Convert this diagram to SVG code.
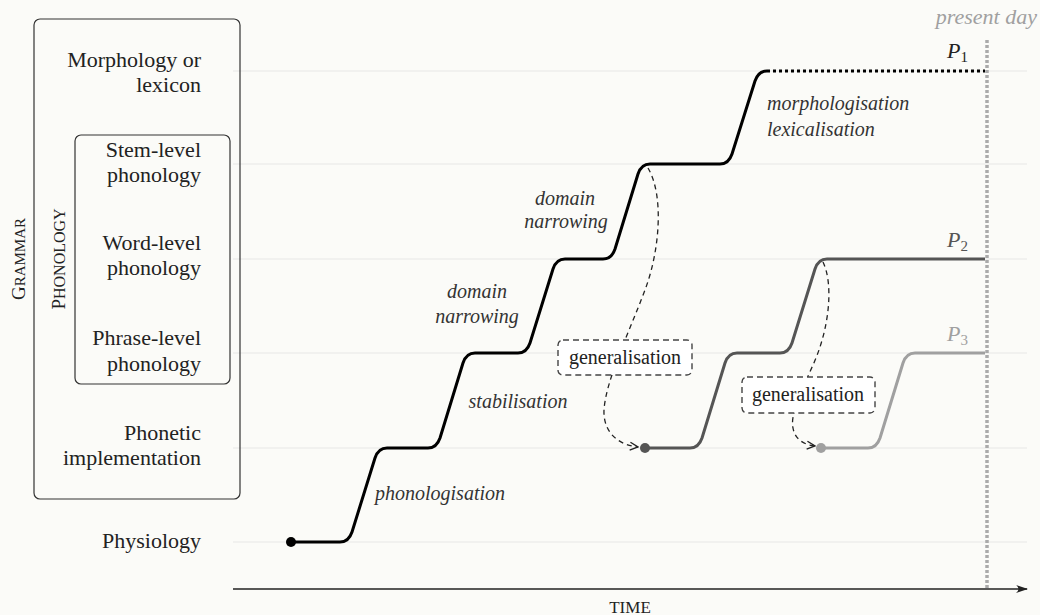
<svg xmlns="http://www.w3.org/2000/svg" width="1040" height="615" viewBox="0 0 1040 615" font-family="Liberation Serif, serif">
<style>
text{font-family:'Liberation Serif',serif}
.lbl{font-size:22px;fill:#222;text-anchor:end}
.it{font-style:italic;font-size:20px;fill:#333}
.mid{text-anchor:middle}
.gt{font-size:20px;fill:#222;text-anchor:middle}
.plab{font-style:italic;font-size:22px}
.sub{font-size:15px;font-style:normal}
.lvl{stroke:#e8e8e6;stroke-width:1.2;fill:none}
.box{fill:none;stroke:#333;stroke-width:1.2}
.gen{fill:#fff;stroke:#444;stroke-width:1.4;stroke-dasharray:6 4}
.dash{fill:none;stroke:#222;stroke-width:1.3;stroke-dasharray:5 4}
.pl{fill:none;stroke-width:3;stroke-linejoin:round}
</style>
<defs>
<marker id="open" viewBox="0 0 10 10" refX="9" refY="5" markerWidth="10" markerHeight="10" markerUnits="userSpaceOnUse" orient="auto">
<path d="M1,1 L9,5 L1,9" fill="none" stroke="#222" stroke-width="1.4"/>
</marker>
<marker id="axis" viewBox="0 0 12 10" refX="11" refY="5" markerWidth="12" markerHeight="10" markerUnits="userSpaceOnUse" orient="auto">
<path d="M0,1 Q5,5 0,9 L12,5 Z" fill="#222"/>
</marker>
</defs>
<rect width="1040" height="615" fill="#fbfbf8"/>
<g id="levels">
<line class="lvl" x1="233" y1="71" x2="1027" y2="71"/>
<line class="lvl" x1="233" y1="164" x2="1027" y2="164"/>
<line class="lvl" x1="233" y1="259" x2="1027" y2="259"/>
<line class="lvl" x1="233" y1="353" x2="1027" y2="353"/>
<line class="lvl" x1="233" y1="448" x2="1027" y2="448"/>
<line class="lvl" x1="233" y1="542" x2="1027" y2="542"/>
</g>
<g id="grammar">
<rect class="box" x="34" y="19" width="206" height="480" rx="6"/>
<text transform="translate(25,259) rotate(-90)" text-anchor="middle" fill="#222"><tspan font-size="19">G</tspan><tspan font-size="15">RAMMAR</tspan></text>
</g>
<g id="phonology">
<rect class="box" x="75" y="135" width="155" height="249" rx="6"/>
<text transform="translate(65,259) rotate(-90)" text-anchor="middle" fill="#222"><tspan font-size="19">P</tspan><tspan font-size="16">HONOLOGY</tspan></text>
</g>
<g id="labels">
<text class="lbl" x="201" y="67">Morphology or</text>
<text class="lbl" x="201" y="92">lexicon</text>
<text class="lbl" x="201" y="157">Stem-level</text>
<text class="lbl" x="201" y="182">phonology</text>
<text class="lbl" x="201" y="250">Word-level</text>
<text class="lbl" x="201" y="275">phonology</text>
<text class="lbl" x="201" y="345">Phrase-level</text>
<text class="lbl" x="201" y="371">phonology</text>
<text class="lbl" x="201" y="440">Phonetic</text>
<text class="lbl" x="201" y="465">implementation</text>
<text class="lbl" x="201" y="548">Physiology</text>
</g>
<g id="axis">
<line x1="233" y1="589" x2="1027" y2="589" stroke="#222" stroke-width="1.3" marker-end="url(#axis)"/>
<text x="630" y="613" text-anchor="middle" font-size="17" fill="#222">TIME</text>
</g>
<g id="present-day">
<line x1="987" y1="40" x2="987" y2="589" stroke="#aaa" stroke-width="3.5" stroke-dasharray="3 2"/>
<text x="1037" y="24" text-anchor="end" font-style="italic" font-size="22" fill="#a0a0a0">present day</text>
</g>
<g id="connectors">
<path class="dash" d="M648 168 C664 195 660 250 645 290 C628 335 606 380 604 410 C603 432 618 445 638 447" marker-end="url(#open)"/>
<path class="dash" d="M823 262 C834 285 829 330 813 365 C801 392 790 415 793 428 C795 440 805 445 815 446" marker-end="url(#open)"/>
</g>
<g id="P1">
<path class="pl" stroke="#000" d="M291 542 H340 C347 542 350 538 352 532 L375 458 C377 452 380 448 387 448 H428 C435 448 438 444 440 438 L463 363 C465 357 468 353 475 353 H518 C525 353 528 349 530 343 L553 269 C555 263 558 259 565 259 H603 C610 259 613 255 615 249 L638 174 C640 168 643 164 650 164 H720 C727 164 730 160 732 154 L755 81 C757 75 760 71 767 71"/>
<path d="M767 71 H985" stroke="#000" stroke-width="3" stroke-dasharray="3 3" fill="none"/>
<circle cx="291" cy="542" r="5" fill="#000"/>
<text x="947" y="58" class="plab" fill="#222">P<tspan class="sub" dy="4">1</tspan></text>
</g>
<g id="P2">
<path class="pl" stroke="#555" d="M645 448 H690 C697 448 700 444 702 438 L725 363 C727 357 730 353 737 353 H780 C787 353 790 349 792 343 L815 269 C817 263 820 259 827 259 H985"/>
<circle cx="645" cy="448" r="5" fill="#555"/>
<text x="947" y="247" class="plab" fill="#555">P<tspan class="sub" dy="4">2</tspan></text>
</g>
<g id="P3">
<path class="pl" stroke="#a0a0a0" d="M820 448 H868 C875 448 878 444 880 438 L903 363 C905 357 908 353 915 353 H985"/>
<circle cx="821" cy="448" r="5" fill="#a0a0a0"/>
<text x="947" y="341" class="plab" fill="#a0a0a0">P<tspan class="sub" dy="4">3</tspan></text>
</g>
<g id="gen1">
<rect class="gen" x="558" y="340" width="134" height="35" rx="5"/>
<text class="gt" x="625" y="364">generalisation</text>
</g>
<g id="gen2">
<rect class="gen" x="742" y="377" width="133" height="36" rx="5"/>
<text class="gt" x="808" y="401">generalisation</text>
</g>
<g id="process-labels">
<text class="it" x="767" y="110">morphologisation</text>
<text class="it" x="767" y="136">lexicalisation</text>
<text class="it mid" x="565" y="205">domain</text>
<text class="it mid" x="566" y="228">narrowing</text>
<text class="it mid" x="477" y="298">domain</text>
<text class="it mid" x="477" y="323">narrowing</text>
<text class="it mid" x="518" y="408">stabilisation</text>
<text class="it mid" x="440" y="500">phonologisation</text>
</g>
</svg>
